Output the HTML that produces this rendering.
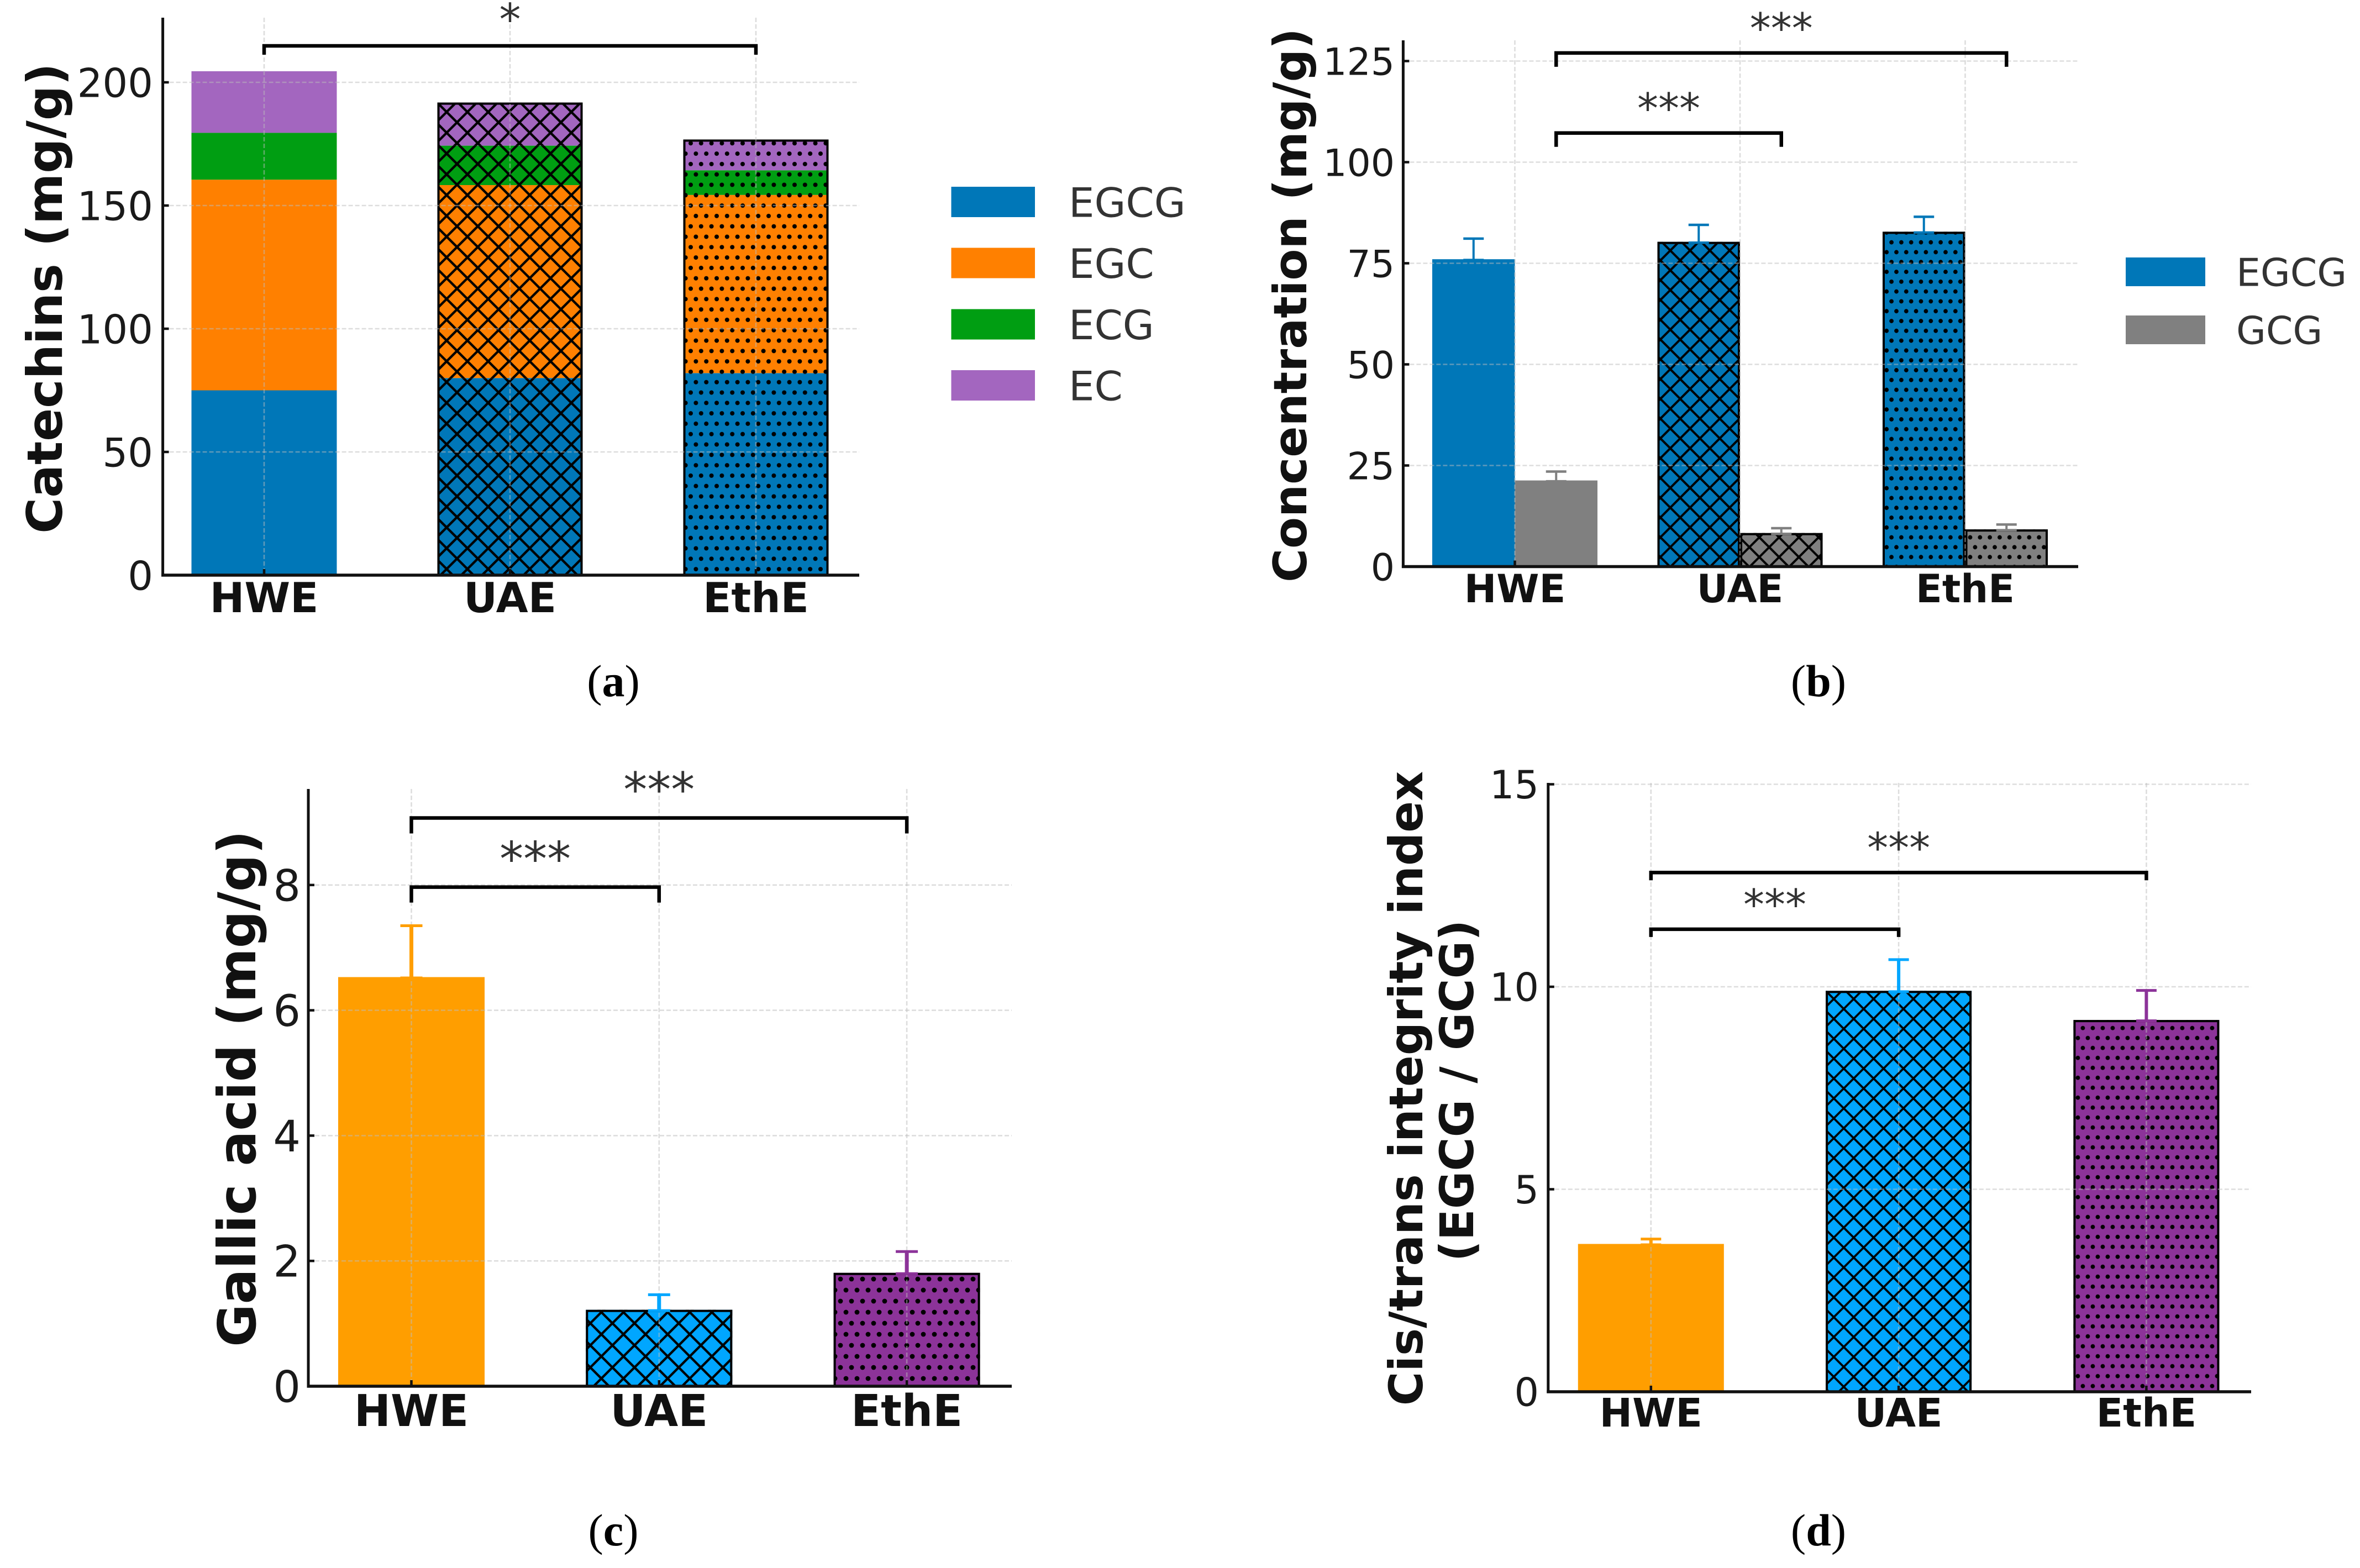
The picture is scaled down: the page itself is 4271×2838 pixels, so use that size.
<!DOCTYPE html>
<html lang="en">
<head>
<meta charset="utf-8">
<title>Catechin composition by extraction method</title>
<style>
html,body{margin:0;padding:0;background:#fff;}
body{width:4271px;height:2838px;overflow:hidden;}
svg{display:block;}
text{font-family:"DejaVu Sans","Liberation Sans",sans-serif;}
.caption{font-family:"Liberation Serif",serif;font-size:82px;fill:#000;}
</style>
</head>
<body>
<svg id="figure" xmlns="http://www.w3.org/2000/svg" width="4271" height="2838" viewBox="0 0 4271 2838">
<defs id="hatch-defs"></defs>
<rect width="4271" height="2838" fill="#fff"></rect>
<text class="caption" x="1110" y="1260" text-anchor="middle">(<tspan font-weight="bold">a</tspan>)</text>
<text class="caption" x="3291" y="1260" text-anchor="middle">(<tspan font-weight="bold">b</tspan>)</text>
<text class="caption" x="1110" y="2797" text-anchor="middle">(<tspan font-weight="bold">c</tspan>)</text>
<text class="caption" x="3291" y="2797" text-anchor="middle">(<tspan font-weight="bold">d</tspan>)</text>
</svg>
<script>
// ---- shared categories ----
const categories = ['HWE', 'UAE', 'EthE'];

// ---- panel (a) stacked catechins ----
const aEGCG = [75, 80, 82];
const aEGC = [85.5, 78.3, 72.3];
const aECG = [19, 16, 10];
const aEC = [25, 17.5, 12.5];
const aTicks = [0, 50, 100, 150, 200];
const aLegend = ['EGCG', 'EGC', 'ECG', 'EC'];

// ---- panel (b) EGCG vs GCG ----
const bEGCG = [76, 80.3, 82.8];
const bEGCGErr = [5.1, 4.2, 3.7];
const bGCG = [21.3, 8.3, 9.2];
const bGCGErr = [2.2, 1.2, 1.2];
const bTicks = [0, 25, 50, 75, 100, 125];
const bLegend = ['EGCG', 'GCG'];

// ---- panel (c) gallic acid ----
const cValues = [6.53, 1.22, 1.81];
const cErrors = [0.82, 0.24, 0.34];
const cTicks = [0, 2, 4, 6, 8];

// ---- panel (d) cis/trans index ----
const dValues = [3.65, 9.9, 9.18];
const dErrors = [0.12, 0.77, 0.73];
const dTicks = [0, 5, 10, 15];

// ---- significance annotations (category index pairs, data-space level) ----
const aBracketTo = [2];
const aBracketLevels = [214.8];
const aBracketLabels = ['*'];
const bBracketTo = [1, 2];
const bBracketLevels = [107.2, 127];
const bBracketLabels = ['***', '***'];
const cBracketTo = [1, 2];
const cBracketLevels = [7.966, 9.07];
const cBracketLabels = ['***', '***'];
const dBracketTo = [1, 2];
const dBracketLevels = [11.42, 12.82];
const dBracketLabels = ['***', '***'];

const NS = 'http://www.w3.org/2000/svg';
const root = document.getElementById('figure');
const defs = document.getElementById('hatch-defs');
const COLORS = {egcg:'#0077b8', egc:'#ff8000', ecg:'#009e12', ec:'#a366bf', gcg:'#808080',
                orange:'#ff9e00', blue:'#00a6ff', purple:'#8c3399'};

function mk(tag, attrs, parent) {
  const el = document.createElementNS(NS, tag);
  for (const k in attrs) el.setAttribute(k, attrs[k]);
  if (parent) parent.appendChild(el);
  return el;
}

function addPatterns(id, crossT, crossX, crossY, crossW, dotT, dotX, dotY, dotR) {
  const px = mk('pattern', {id:'cross-' + id, patternUnits:'userSpaceOnUse', width:crossT, height:crossT,
    patternTransform:'translate(' + crossX + ' ' + crossY + ')'}, defs);
  mk('path', {d:'M-2 -2L' + (crossT + 2) + ' ' + (crossT + 2) + 'M-2 ' + (crossT + 2) + 'L' + (crossT + 2) + ' -2',
    stroke:'#000', 'stroke-width':crossW, fill:'none'}, px);
  const pd = mk('pattern', {id:'dots-' + id, patternUnits:'userSpaceOnUse', width:dotT, height:dotT,
    patternTransform:'translate(' + dotX + ' ' + dotY + ')'}, defs);
  const spots = [[0,0],[.5,0],[1,0],[.25,.5],[.75,.5],[0,1],[.5,1],[1,1]];
  spots.forEach(function (s) {
    mk('circle', {cx:s[0] * dotT, cy:s[1] * dotT, r:dotR, fill:'#000'}, pd);
  });
}
addPatterns('a', 37.6, 808.3, 202.7, 4.3, 37.6, 1250, 259.3, 4);
addPatterns('b', 35.8, 3040.7, 829.3, 4, 35.6, 3432, 848, 3.9);
addPatterns('c', 40, 1108.3, 2395, 4.3, 40, 1521, 2315, 4.4);
addPatterns('d', 36, 3336.7, 1826, 3.8, 36, 3769.4, 1860.7, 3.9);

function hatchUrl(panelId, catIndex) {
  if (catIndex === 1) return 'url(#cross-' + panelId + ')';
  if (catIndex === 2) return 'url(#dots-' + panelId + ')';
  return null;
}

function axisFns(p) {
  p.x = function (i) { return p.x0 + i * p.step; };
  p.y = function (v) { return p.y0 - v * p.unit; };
  return p;
}

function drawGrid(g, p, ticks) {
  ticks.forEach(function (t) {
    if (t === 0) return;
    const ln = mk('line', {x1:p.left, x2:p.right, y1:p.y(t), y2:p.y(t), stroke:'#bbb', 'stroke-opacity':.5,
      'stroke-width':2.6, 'stroke-dasharray':'8 4'}, g);
    
    
  });
  categories.forEach(function (c, i) {
    const ln = mk('line', {x1:p.x(i), x2:p.x(i), y1:p.top, y2:p.y0, stroke:'#bbb', 'stroke-opacity':.5,
      'stroke-width':2.6, 'stroke-dasharray':'8 4'}, g);
    
    
  });
}

function drawAxes(g, p, ticks) {
  const sl = mk('line', {x1:p.left, x2:p.left, y1:p.top, y2:p.y0 + 2.5, stroke:'#111', 'stroke-width':5}, g);
  
  
  const sb = mk('line', {x1:p.left - 2.5, x2:p.right, y1:p.y0, y2:p.y0, stroke:'#111', 'stroke-width':5.5}, g);
  
  
  ticks.forEach(function (t) {
    const tk = mk('line', {x1:p.left, x2:p.left + 11, y1:p.y(t), y2:p.y(t), stroke:'#111', 'stroke-width':4.5}, g);
    
    
    const lb = mk('text', {x:p.tickRight, y:p.y(t) + p.tickFont * .365, 'text-anchor':'end', 'font-size':p.tickFont, fill:'#1a1a1a'}, g);
    lb.textContent = t;
    
    
  });
  categories.forEach(function (c, i) {
    const tk = mk('line', {x1:p.x(i), x2:p.x(i), y1:p.y0, y2:p.y0 - 11, stroke:'#111', 'stroke-width':4.5}, g);
    
    
    const lb = mk('text', {x:p.x(i), y:p.catBase, 'text-anchor':'middle', 'font-size':p.catFont, 'font-weight':'bold', fill:'#111'}, g);
    lb.textContent = c;
    
    
  });
}

function drawYTitle(g, text, baseX, midY, size, name) {
  const t = mk('text', {transform:'translate(' + baseX + ' ' + midY + ') rotate(-90)', 'text-anchor':'middle',
    'font-size':size, 'font-weight':'bold', fill:'#111'}, g);
  t.textContent = text;
  
  
}

function drawSegment(g, x, vBase, vTop, w, p, color, hatch, name) {
  const y1 = p.y(vBase + vTop), y2 = p.y(vBase);
  const r = mk('rect', {x:x, y:y1, width:w, height:y2 - y1, fill:color}, g);
  
  
  if (hatch) {
    const o = mk('rect', {x:x, y:y1, width:w, height:y2 - y1, fill:hatch}, g);
    
    
  }
}

function drawOutline(g, x, value, w, p, name) {
  const y1 = p.y(value);
  const r = mk('rect', {x:x + 2, y:y1 + 2, width:w - 4, height:p.y0 - y1 - 2, fill:'none', stroke:'#000', 'stroke-width':4}, g);
  
  
}

function drawError(g, cx, value, err, p, color, stem, thick, capW, name) {
  const top = p.y(value + err), low = p.y(value);
  const s = mk('line', {x1:cx, x2:cx, y1:top, y2:low, stroke:color, 'stroke-width':stem}, g);
  
  
  const c1 = mk('line', {x1:cx - capW / 2, x2:cx + capW / 2, y1:top, y2:top, stroke:color, 'stroke-width':thick}, g);
  
  
  const c2 = mk('line', {x1:cx - capW / 2, x2:cx + capW / 2, y1:low + 1.5, y2:low + 1.5, stroke:color, 'stroke-width':thick}, g);
  
  
}

function drawBrackets(g, p, toList, levels, labels, fromX, toX, drop, starFont, starGap, panelId) {
  toList.forEach(function (to, i) {
    const a = fromX(0), b = toX(to), y = p.y(levels[i]);
    const br = mk('path', {d:'M' + a + ' ' + (y + drop) + 'V' + y + 'H' + b + 'V' + (y + drop), fill:'none', stroke:'#000', 'stroke-width':6.5}, g);
    
    
    const st = mk('text', {x:(a + b) / 2, y:y - starGap + starFont * .52, 'text-anchor':'middle', 'font-size':starFont, fill:'#333'}, g);
    st.textContent = labels[i];
    
    
  });
}

function drawLegend(g, names, colors, x1, x2, tops, h, textX, font, panelId) {
  names.forEach(function (n, i) {
    const r = mk('rect', {x:x1, y:tops[i], width:x2 - x1, height:h, fill:colors[i]}, g);
    
    
    const t = mk('text', {x:textX, y:tops[i] + h / 2 + font * .365, 'font-size':font, fill:'#333'}, g);
    t.textContent = n;
    
    
  });
}

function newPanel(name) {
  const g = mk('g', {}, root);
  
  
  return g;
}

// ---- Panel A ----
(function () {
  const p = axisFns({x0:478, step:445, y0:1041, unit:4.46, left:294.6, top:32, right:1555, tickRight:277, tickFont:72, catBase:1108, catFont:75});
  const g = newPanel('panel-a-catechins');
  const w = 263;
  const layers = [['EGCG', aEGCG, COLORS.egcg], ['EGC', aEGC, COLORS.egc], ['ECG', aECG, COLORS.ecg], ['EC', aEC, COLORS.ec]];
  categories.forEach(function (c, i) {
    let base = 0;
    layers.forEach(function (l) {
      drawSegment(g, p.x(i) - w / 2, base, l[1][i], w, p, l[2], hatchUrl('a', i), 'bar-' + c + '-' + l[0]);
      base += l[1][i];
    });
    if (i > 0) drawOutline(g, p.x(i) - w / 2, base, w, p, 'bar-outline-' + c);
  });
  drawGrid(g, p, aTicks);
  drawAxes(g, p, aTicks);
  drawYTitle(g, 'Catechins (mg/g)', 112, 540, 88.5, 'y-axis-title-a');
  drawBrackets(g, p, aBracketTo, aBracketLevels, aBracketLabels, p.x, p.x, 16, 78, 61, 'a');
  drawLegend(g, aLegend, [COLORS.egcg, COLORS.egc, COLORS.ecg, COLORS.ec], 1721.5, 1873, [338, 448.5, 559.5, 670], 55, 1934, 73.5, 'a');
})();

// ---- Panel B ----
(function () {
  const p = axisFns({x0:2741.5, step:407.5, y0:1025.5, unit:7.32, left:2539.4, top:73, right:3761, tickRight:2524, tickFont:68, catBase:1090, catFont:70});
  const g = newPanel('panel-b-concentration');
  const w = 149.5;
  categories.forEach(function (c, i) {
    drawSegment(g, p.x(i) - w, 0, bEGCG[i], w, p, COLORS.egcg, hatchUrl('b', i), 'bar-' + c + '-EGCG');
    if (i > 0) drawOutline(g, p.x(i) - w, bEGCG[i], w, p, 'bar-outline-' + c + '-EGCG');
    drawSegment(g, p.x(i), 0, bGCG[i], w, p, COLORS.gcg, hatchUrl('b', i), 'bar-' + c + '-GCG');
    if (i > 0) drawOutline(g, p.x(i), bGCG[i], w, p, 'bar-outline-' + c + '-GCG');
  });
  drawGrid(g, p, bTicks);
  categories.forEach(function (c, i) {
    drawError(g, p.x(i) - w / 2, bEGCG[i], bEGCGErr[i], p, COLORS.egcg, 4, 4.5, 37, 'error-bar-' + c + '-EGCG');
    drawError(g, p.x(i) + w / 2, bGCG[i], bGCGErr[i], p, COLORS.gcg, 4, 4.5, 37, 'error-bar-' + c + '-GCG');
  });
  drawAxes(g, p, bTicks);
  drawYTitle(g, 'Concentration (mg/g)', 2364, 552.5, 83, 'y-axis-title-b');
  const bx = function (i) { return p.x(i) + w / 2; };
  drawBrackets(g, p, bBracketTo, bBracketLevels, bBracketLabels, bx, bx, 25, 76, 58, 'b');
  drawLegend(g, bLegend, [COLORS.egcg, COLORS.gcg], 3847, 3991, [466, 571], 52, 4047, 69.5, 'b');
})();

// ---- Panels C and D share a structure ----
function singlePanel(id, name, cfg, values, errors, ticks, w, stem, capW) {
  const p = axisFns(cfg);
  const g = newPanel(name);
  const palette = [COLORS.orange, COLORS.blue, COLORS.purple];
  categories.forEach(function (c, i) {
    drawSegment(g, p.x(i) - w / 2, 0, values[i], w, p, palette[i], hatchUrl(id, i), 'bar-' + c);
    if (i > 0) drawOutline(g, p.x(i) - w / 2, values[i], w, p, 'bar-outline-' + c);
  });
  drawGrid(g, p, ticks);
  categories.forEach(function (c, i) {
    drawError(g, p.x(i), values[i], errors[i], p, palette[i], stem, 5, capW, 'error-bar-' + c);
  });
  drawAxes(g, p, ticks);
  return {g: g, p: p};
}

(function () {
  const r = singlePanel('c', 'panel-c-gallic-acid',
    {x0:744.5, step:448.3, y0:2509, unit:113.4, left:558, top:1428, right:1831, tickRight:544, tickFont:78, catBase:2581, catFont:79},
    cValues, cErrors, cTicks, 265, 7, 40);
  drawYTitle(r.g, 'Gallic acid (mg/g)', 462, 1970.5, 94.5, 'y-axis-title-c');
  drawBrackets(r.g, r.p, cBracketTo, cBracketLevels, cBracketLabels, r.p.x, r.p.x, 28, 86, 66, 'c');
})();

(function () {
  const r = singlePanel('d', 'panel-d-cis-trans-index',
    {x0:2987.8, step:448.3, y0:2519, unit:73.3, left:2801.8, top:1417, right:4074, tickRight:2785, tickFont:70, catBase:2582, catFont:71},
    dValues, dErrors, dTicks, 264, 6, 37);
  drawYTitle(r.g, 'Cis/trans integrity index', 2574, 1970, 84, 'y-axis-title-d-line-1');
  drawYTitle(r.g, '(EGCG / GCG)', 2666, 1974, 83.5, 'y-axis-title-d-line-2');
  drawBrackets(r.g, r.p, dBracketTo, dBracketLevels, dBracketLabels, r.p.x, r.p.x, 14, 76, 58, 'd');
})();
</script>
</body>
</html>
